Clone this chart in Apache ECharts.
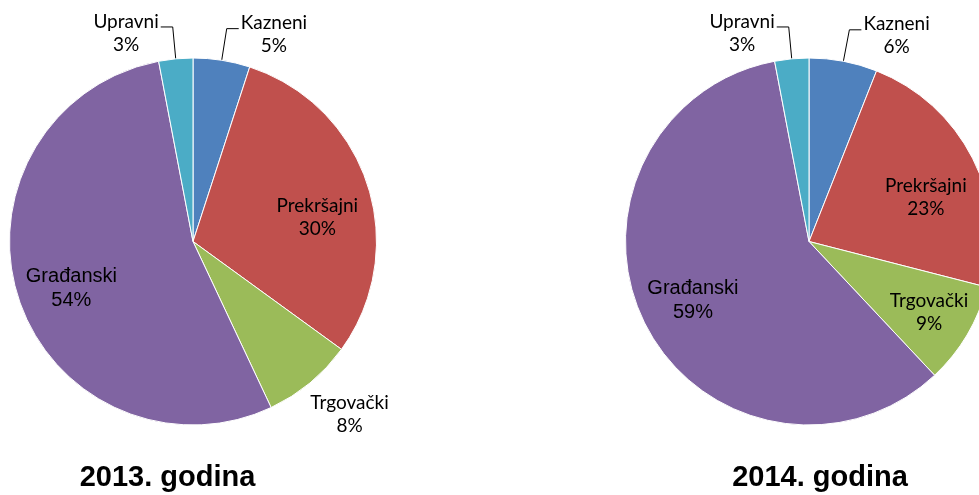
<!DOCTYPE html>
<html><head><meta charset="utf-8">
<script src="https://cdn.jsdelivr.net/npm/echarts@6/dist/echarts.min.js"></script>
<style>html,body{margin:0;padding:0;background:#fff}#c{width:979px;height:495px}</style>
</head><body><div id="c"></div>
<script>
// ---- data ----
const categories = ['Kazneni', 'Prekršajni', 'Trgovački', 'Građanski', 'Upravni'];
const values2013 = [5, 30, 8, 54, 3];
const values2014 = [6, 23, 9, 59, 3];
const titles = ['2013. godina', '2014. godina'];

// ---- styling ----
const colors = ['#4F81BD', '#C0504D', '#9BBB59', '#8064A2', '#4BACC6'];
const R = 183.5;
const centers = [[193, 241.5], [809, 241.5]];
// label mode per slice: 'line' = outside with leader line; number = radial factor of label centre
const modes = [
  ['line', 0.69, 1.27, 0.71, 'line'],
  ['line', 0.68, 0.76, 0.71, 'line']
];
// small angular nudges (degrees, clockwise) of the label placement
const nudges = [
  [0, 7, -2.6, -3, 0],
  [0, 6.5, 0, 0, 0]
];
const calibri = { fontFamily: 'Lato', fontSize: 19, lineHeight: 23, color: '#000' };
const arial = { fontFamily: 'Liberation Sans, Arial', fontSize: 20, lineHeight: 24, color: '#000' };

function buildData(values, mi) {
  return categories.map((name, i) => {
    const m = modes[mi][i];
    const font = name === 'Građanski' ? arial : calibri;
    return {
      name, value: values[i],
      itemStyle: { color: colors[i] },
      label: Object.assign({ show: true, position: m === 'line' ? 'outside' : 'inside' }, font),
      labelLine: m === 'line'
        ? { show: true, length: 32, length2: 12, lineStyle: { color: '#000', width: 1 } }
        : { show: false }
    };
  });
}

function layoutFn(params) {
  const si = params.seriesIndex;
  const m = modes[si][params.dataIndex];
  const r = params.labelRect;
  if (m === 'line') {
    const sgn = params.align === 'right' ? -1 : 1;
    return { align: 'center', dx: sgn * r.width / 2, dy: 6 };
  }
  const c = centers[si];
  const lx = r.x + r.width / 2, ly = r.y + r.height / 2;
  let vx = lx - c[0], vy = ly - c[1];
  const d = Math.sqrt(vx * vx + vy * vy);
  const a = nudges[si][params.dataIndex] * Math.PI / 180;
  const rx = vx * Math.cos(a) - vy * Math.sin(a);
  const ry = vx * Math.sin(a) + vy * Math.cos(a);
  const s = (m * R) / d;
  return { dx: rx * s - vx, dy: ry * s - vy };
}

const series = [values2013, values2014].map((vals, idx) => ({
  type: 'pie',
  center: centers[idx],
  radius: R,
  startAngle: 90,
  clockwise: true,
  avoidLabelOverlap: false,
  silent: true,
  animation: false,
  label: { formatter: '{b}\n{c}%', distanceToLabelLine: 2 },
  itemStyle: { borderColor: '#fff', borderWidth: 1 },
  emphasis: { disabled: true },
  labelLayout: layoutFn,
  data: buildData(vals, idx)
}));

const chart = echarts.init(document.getElementById('c'), null, { renderer: 'canvas' });
chart.setOption({
  backgroundColor: '#fff',
  animation: false,
  series,
  graphic: titles.map((t, i) => ({
    type: 'text',
    x: [167.5, 820][i],
    y: 478,
    style: {
      text: t, fill: '#000', align: 'center', verticalAlign: 'middle',
      font: 'bold 29px "Liberation Sans", Arial, sans-serif'
    }
  }))
});
</script>
</body></html>
